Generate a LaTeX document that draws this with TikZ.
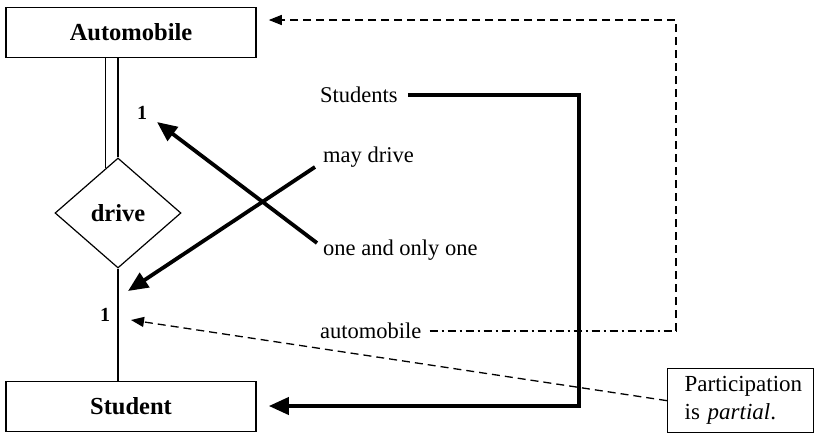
\documentclass[tikz,border=0pt]{standalone}
\usepackage{fontspec}
\setmainfont{Liberation Serif}
\usetikzlibrary{shapes.geometric,arrows.meta,calc}
\begin{document}
\begin{tikzpicture}[x=1pt,y=-1pt,
  entity/.style={draw,line width=1.6pt,minimum width=250pt,minimum height=50pt,inner sep=0pt,font=\fontsize{24.5}{28}\selectfont\bfseries},
  relation/.style={draw,diamond,line width=1.2pt,minimum width=126pt,minimum height=110pt,inner sep=0pt,font=\fontsize{24.5}{28}\selectfont\bfseries},
  label/.style={font=\fontsize{22.5}{26}\selectfont,anchor=west,inner sep=0pt},
  card/.style={font=\fontsize{20}{22}\selectfont\bfseries,inner sep=0pt},
  thin/.style={line width=1.2pt},
  heavy/.style={line width=3.8pt,line join=miter,-{Triangle[length=20pt,width=17pt]}},
  note/.style={line width=1.3pt,dash pattern=on 8pt off 5pt,-{Triangle[length=13pt,width=10pt]}},
  notedot/.style={line width=1.3pt,dash pattern=on 8pt off 4pt on 2pt off 4pt}]
\useasboundingbox (0,0) rectangle (814,432);

% entities and relationship
\node[entity] (auto) at (131,32.5) {Automobile};
\node[entity] (stud) at (131,406.5) {Student};
\node[relation] (drive) at (118,213) {drive};

% total participation (double line) and partial participation (single line)
\coordinate (dl) at ($(drive.north)!12/63!(drive.west)$);
\draw[thin] (dl) -- (dl |- auto.south);
\draw[thin] (drive.north) -- (drive.north |- auto.south);
\draw[thin] (drive.south) -- (drive.south |- stud.north);

% cardinalities
\node[card] (c1) at (142,113) {1};
\node[card] (c2) at (105,315) {1};

% annotation texts
\node[label] (tStudents) at (320,95) {Students};
\node[label] (tmay) at (323,157) {may drive};
\node[label] (tone) at (323,250) {one and only one};
\node[label] (tauto) at (320,331) {automobile};
\node[draw,line width=1.3pt,anchor=north west,align=left,inner sep=0pt,
      text width=112pt,minimum height=64pt,font=\fontsize{23}{28}\selectfont,
      inner xsep=17pt] (part) at (667,368) {Participation\\is \textit{partial}.};

% pointer ends
\coordinate (pOne) at (157,122);
\coordinate (pMay) at (128,291);
\coordinate (pPart) at (131,320);
\coordinate (cTop) at (579,95);
\coordinate (cBot) at (579,406);
\coordinate (dTop) at (676,20);
\coordinate (dBot) at (676,331);

% heavy pointers
\draw[heavy] ($(tone.west)+(-6,-7)$) -- (pOne);
\draw[heavy] ($(tmay.west)+(-8,10)$) -- (pMay);
\draw[heavy,shorten >=12pt] ($(tStudents.east)+(10,0)$) -- (cTop) -- (cBot) -- (cBot -| stud.east);

% dashed pointers
\draw[notedot] ($(tauto.east)+(8,0)$) -- (dBot);
\draw[note,shorten >=12pt] (dBot) -- (dTop) -- (dTop -| auto.east);
\draw[note] (part.west) -- (pPart);
\end{tikzpicture}
\end{document}
